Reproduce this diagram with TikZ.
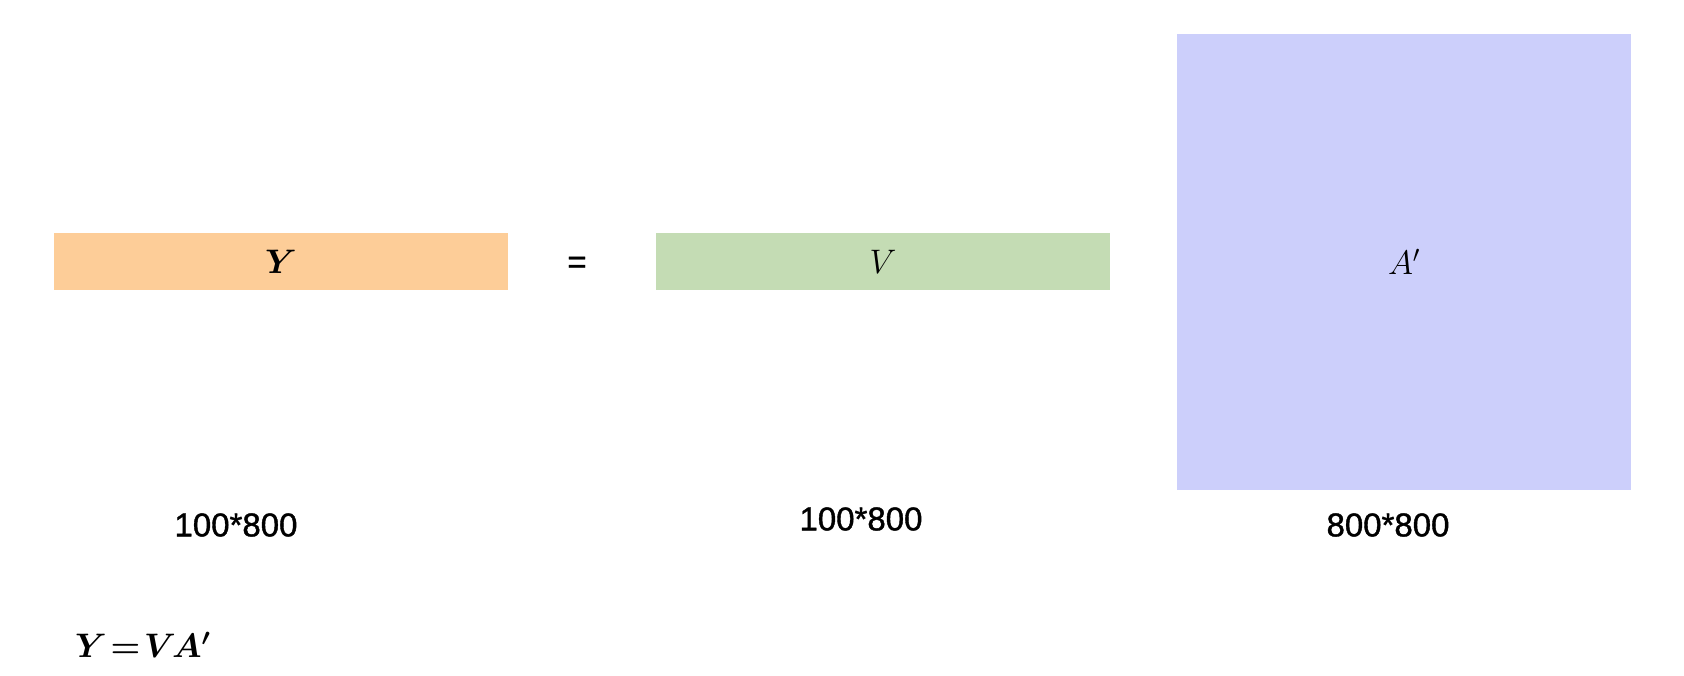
\RequirePackage{fix-cm}
\documentclass[tikz,border=0pt]{standalone}
\usepackage{amsmath}
\usepackage{bm}
\usepackage{fontspec}
\newfontfamily\labelfont[FakeBold=1.2]{Liberation Sans}
\definecolor{ycol}{HTML}{FDCD98}
\definecolor{vcol}{HTML}{C4DCB4}
\definecolor{acol}{HTML}{CCCFFB}
\begin{document}
\begin{tikzpicture}[x=1pt,y=-1pt,
  mat/.style={draw=none,inner sep=0pt,font=\fontsize{34}{40}\selectfont},
  dimlabel/.style={inner sep=0pt,font=\labelfont\fontsize{33}{38}\selectfont}]
\useasboundingbox[fill=white] (0,0) rectangle (1684,675);
\node[mat,fill=ycol,minimum width=454pt,minimum height=57pt] (Y) at (281,261.5) {$\bm{Y}$};
\node[mat,fill=vcol,minimum width=454pt,minimum height=57pt] (V) at (883,261.5) {$V$};
\node[mat,fill=acol,minimum width=454pt,minimum height=456pt] (A) at (1404,262) {$A'$};
\node[dimlabel] (eq) at (577,265) {=};
\node[dimlabel] (ydim) at (236,525) {100*800};
\node[dimlabel] (vdim) at (861,519) {100*800};
\node[dimlabel] (adim) at (1388,525) {800*800};
\node[mat,anchor=west] (formula) at (75,645) {$\bm{Y}\mkern2mu{\bm{=}}\mkern2mu\bm{V}\mkern-2mu\bm{A'}$};
\end{tikzpicture}
\end{document}
